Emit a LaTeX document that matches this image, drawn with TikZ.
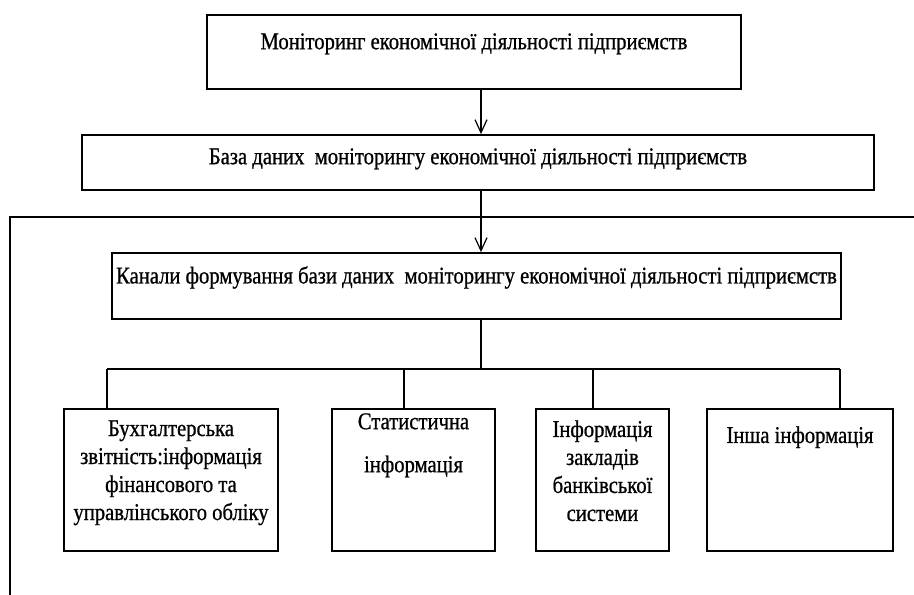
\documentclass[tikz,border=0pt]{standalone}
\usepackage{fontspec}
\setmainfont{Liberation Serif}
\newfontfamily\diagfont{Liberation Serif}[FakeStretch=0.86, FakeBold=0.8]
\usetikzlibrary{arrows.meta}

\tikzset{
  box/.style={draw=black, line width=1.8pt, fill=white, inner sep=0pt},
  label text/.style={font=\diagfont\fontsize{24}{28}\selectfont, align=center, inner sep=0pt, anchor=north},
  link/.style={draw=black, line width=1.3pt},
  arrowlink/.style={link, -{Straight Barb[length=13pt,width=12pt,line width=1.2pt]}},
}

\begin{document}
\begin{tikzpicture}[x=1pt, y=-1pt]
  \useasboundingbox (0,0) rectangle (914,595);

  % spine of the chart and branch points
  \coordinate (spine) at (481,0);
  \coordinate (frameTL) at (10,217);
  \coordinate (frameR) at (914,217);
  \coordinate (frameB) at (10,595);
  \coordinate (b1) at (107,369);
  \coordinate (b2) at (404,369);
  \coordinate (b3) at (593,369);
  \coordinate (b4) at (840,369);

  % top level boxes
  \node[box, minimum width=534pt, minimum height=74pt] (mon) at (474,52) {};
  \node[label text] (tmon) at ([yshift=-19pt]mon.north) {Моніторинг економічної діяльності підприємств};

  \node[box, minimum width=792pt, minimum height=55pt] (db) at (478,162.5) {};
  \node[label text] (tdb) at ([yshift=-14pt]db.north) {База даних\ \ моніторингу економічної діяльності підприємств};

  % outer frame
  \draw[link] (frameR) -- (frameTL) -- (frameB);

  \node[box, minimum width=729pt, minimum height=66pt] (ch) at (476.5,286) {};
  \node[label text] (tch) at ([yshift=-14pt]ch.north) {Канали формування бази даних\ \ моніторингу економічної діяльності підприємств};

  % source boxes
  \node[box, minimum width=214pt, minimum height=142pt] (s1) at (171,480) {};
  \node[box, minimum width=163pt, minimum height=142pt] (s2) at (413.5,480) {};
  \node[box, minimum width=133pt, minimum height=142pt] (s3) at (602.5,480) {};
  \node[box, minimum width=186pt, minimum height=142pt] (s4) at (800,480) {};

  \node[label text] (ts1) at ([yshift=-12pt]s1.north) {Бухгалтерська\\звітність:інформація\\фінансового та\\управлінського обліку};
  \node[label text, font=\diagfont\fontsize{24}{43}\selectfont] (ts2) at ([yshift=-5pt]s2.north) {Статистична\\інформація};
  \node[label text] (ts3) at ([yshift=-12pt]s3.north) {Інформація\\закладів\\банківської\\системи};
  \node[label text] (ts4) at ([yshift=-18pt]s4.north) {Інша інформація};

  % connectors
  \draw[arrowlink] (mon.south -| spine) -- (db.north -| spine);
  \draw[arrowlink] (db.south -| spine) -- (ch.north -| spine);
  \draw[link] (ch.south -| spine) -- (b1 -| spine);
  \draw[link] (b1) -- (b4);
  \draw[link] (b1) -- (b1 |- s1.north);
  \draw[link] (b2) -- (b2 |- s2.north);
  \draw[link] (b3) -- (b3 |- s3.north);
  \draw[link] (b4) -- (b4 |- s4.north);
\end{tikzpicture}
\end{document}
